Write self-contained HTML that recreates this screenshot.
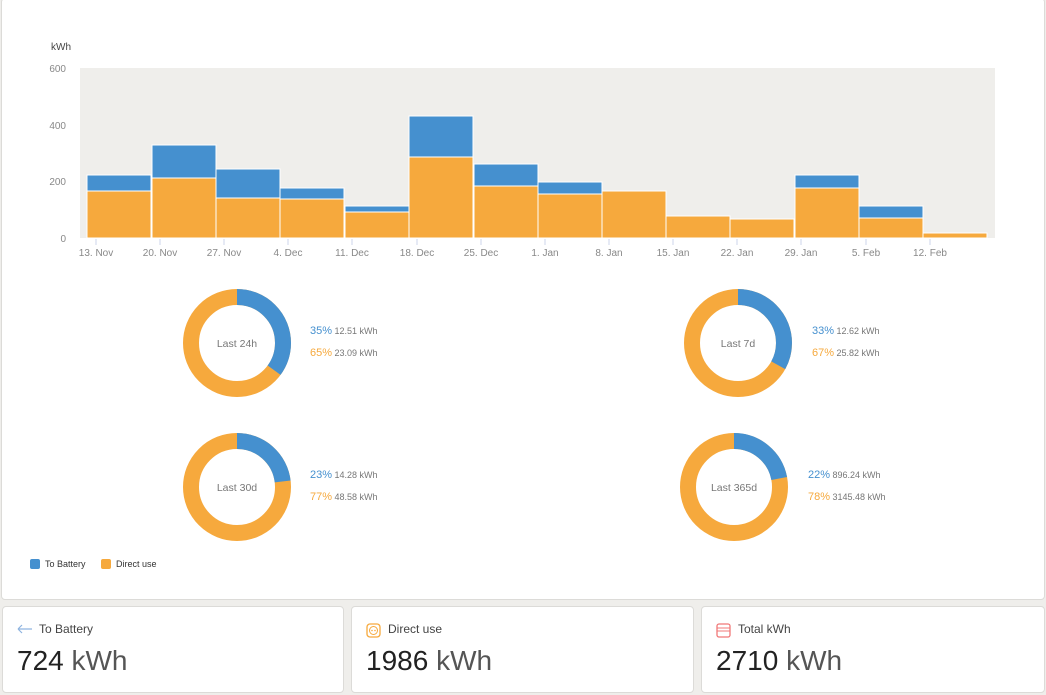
<!DOCTYPE html>
<html><head><meta charset="utf-8"><style>
body{margin:0;width:1046px;height:695px;background:#efeeeb;font-family:"Liberation Sans",sans-serif;position:relative;overflow:hidden}
.panel{position:absolute;left:1px;top:-2px;width:1042px;height:600px;background:#fff;border:1px solid #dcdbd8;border-radius:4px}
.card{position:absolute;top:606px;height:85px;background:#fff;border:1px solid #dcdbd8;border-radius:4px}
.lab{position:absolute;left:36px;top:15px;font-size:12px;color:#444}
.val{position:absolute;left:14px;top:38px;font-size:28px;color:#222}
.val span{color:#555}
.ic{position:absolute;left:14px;top:16px}
</style></head><body>
<div class="panel"></div>
<svg style="position:absolute;left:0;top:0" width="1046" height="600" font-family="Liberation Sans, sans-serif">
<text x="51" y="50" font-size="10" fill="#444">kWh</text>
<rect x="80" y="68" width="915" height="170" fill="#efeeeb"/>
<g font-size="10" fill="#888" text-anchor="end">
<text x="66" y="72">600</text><text x="66" y="129">400</text><text x="66" y="185">200</text><text x="66" y="242">0</text>
</g>
<g stroke="#fff" stroke-width="1">
<rect x="87" y="175" width="64" height="63" fill="#4590cf"/><rect x="87" y="191" width="64" height="47" fill="#f6a93d"/>
<rect x="152" y="145" width="64" height="93" fill="#4590cf"/><rect x="152" y="178" width="64" height="60" fill="#f6a93d"/>
<rect x="216" y="169" width="64" height="69" fill="#4590cf"/><rect x="216" y="198" width="64" height="40" fill="#f6a93d"/>
<rect x="280" y="188" width="64" height="50" fill="#4590cf"/><rect x="280" y="199" width="64" height="39" fill="#f6a93d"/>
<rect x="345" y="206" width="64" height="32" fill="#4590cf"/><rect x="345" y="212" width="64" height="26" fill="#f6a93d"/>
<rect x="409" y="116" width="64" height="122" fill="#4590cf"/><rect x="409" y="157" width="64" height="81" fill="#f6a93d"/>
<rect x="474" y="164" width="64" height="74" fill="#4590cf"/><rect x="474" y="186" width="64" height="52" fill="#f6a93d"/>
<rect x="538" y="182" width="64" height="56" fill="#4590cf"/><rect x="538" y="194" width="64" height="44" fill="#f6a93d"/>
<rect x="602" y="191" width="64" height="47" fill="#f6a93d"/>
<rect x="666" y="216" width="64" height="22" fill="#f6a93d"/>
<rect x="730" y="219" width="64" height="19" fill="#f6a93d"/>
<rect x="795" y="175" width="64" height="63" fill="#4590cf"/><rect x="795" y="188" width="64" height="50" fill="#f6a93d"/>
<rect x="859" y="206" width="64" height="32" fill="#4590cf"/><rect x="859" y="218" width="64" height="20" fill="#f6a93d"/>
<rect x="923" y="233" width="64" height="5" fill="#f6a93d"/>
</g>
<g stroke="#ccd6eb"><path d="M96 239v6M160 239v6M224 239v6M288 239v6M352 239v6M417 239v6M481 239v6M545 239v6M609 239v6M673 239v6M737 239v6M801 239v6M866 239v6M930 239v6"/></g>
<g font-size="10" fill="#888" text-anchor="middle">
<text x="96" y="256">13. Nov</text><text x="160" y="256">20. Nov</text><text x="224" y="256">27. Nov</text><text x="288" y="256">4. Dec</text><text x="352" y="256">11. Dec</text><text x="417" y="256">18. Dec</text><text x="481" y="256">25. Dec</text><text x="545" y="256">1. Jan</text><text x="609" y="256">8. Jan</text><text x="673" y="256">15. Jan</text><text x="737" y="256">22. Jan</text><text x="801" y="256">29. Jan</text><text x="866" y="256">5. Feb</text><text x="930" y="256">12. Feb</text>
</g>
<!-- donuts: r=46, sw=16, C=289.03 -->
<g fill="none" stroke-width="16">
<g transform="translate(237,343) rotate(-90)"><circle r="46" stroke="#f6a93d"/><circle r="46" stroke="#4590cf" stroke-dasharray="101.2 300"/></g>
<g transform="translate(738,343) rotate(-90)"><circle r="46" stroke="#f6a93d"/><circle r="46" stroke="#4590cf" stroke-dasharray="95.4 300"/></g>
<g transform="translate(237,487) rotate(-90)"><circle r="46" stroke="#f6a93d"/><circle r="46" stroke="#4590cf" stroke-dasharray="66.5 300"/></g>
<g transform="translate(734,487) rotate(-90)"><circle r="46" stroke="#f6a93d"/><circle r="46" stroke="#4590cf" stroke-dasharray="63.6 300"/></g>
</g>
<g font-size="10.5" fill="#777" text-anchor="middle">
<text x="237" y="347">Last 24h</text><text x="738" y="347">Last 7d</text><text x="237" y="491">Last 30d</text><text x="734" y="491">Last 365d</text>
</g>
<g font-size="9" fill="#777">
<text x="310" y="334"><tspan fill="#4590cf" font-size="11">35%</tspan> 12.51 kWh</text>
<text x="310" y="356"><tspan fill="#f6a93d" font-size="11">65%</tspan> 23.09 kWh</text>
<text x="812" y="334"><tspan fill="#4590cf" font-size="11">33%</tspan> 12.62 kWh</text>
<text x="812" y="356"><tspan fill="#f6a93d" font-size="11">67%</tspan> 25.82 kWh</text>
<text x="310" y="478"><tspan fill="#4590cf" font-size="11">23%</tspan> 14.28 kWh</text>
<text x="310" y="500"><tspan fill="#f6a93d" font-size="11">77%</tspan> 48.58 kWh</text>
<text x="808" y="478"><tspan fill="#4590cf" font-size="11">22%</tspan> 896.24 kWh</text>
<text x="808" y="500"><tspan fill="#f6a93d" font-size="11">78%</tspan> 3145.48 kWh</text>
</g>
<rect x="30" y="559" width="10" height="10" rx="2" fill="#4590cf"/>
<text x="45" y="567" font-size="9" fill="#333">To Battery</text>
<rect x="101" y="559" width="10" height="10" rx="2" fill="#f6a93d"/>
<text x="116" y="567" font-size="9" fill="#333">Direct use</text>
</svg>
<div class="card" style="left:2px;width:340px">
<svg class="ic" width="16" height="12"><path d="M1 6H15M1 6L5 2M1 6L5 10" stroke="#8fb4e0" fill="none" stroke-width="1.2"/></svg>
<div class="lab">To Battery</div><div class="val">724 <span>kWh</span></div></div>
<div class="card" style="left:351px;width:341px">
<svg class="ic" width="16" height="16"><rect x="1" y="1" width="13" height="13" rx="3" fill="#fff" stroke="#f6a93d" stroke-width="1.3"/><circle cx="7.5" cy="7.5" r="4" fill="none" stroke="#f6a93d"/><circle cx="6" cy="7.5" r=".8" fill="#f6a93d"/><circle cx="9" cy="7.5" r=".8" fill="#f6a93d"/></svg>
<div class="lab">Direct use</div><div class="val">1986 <span>kWh</span></div></div>
<div class="card" style="left:701px;width:342px">
<svg class="ic" width="16" height="16"><rect x="1" y="1" width="13" height="13" rx="2" fill="none" stroke="#f07878" stroke-width="1.3"/><path d="M1 5H14M1 8H14" stroke="#f07878"/></svg>
<div class="lab">Total kWh</div><div class="val">2710 <span>kWh</span></div></div>
</body></html>
